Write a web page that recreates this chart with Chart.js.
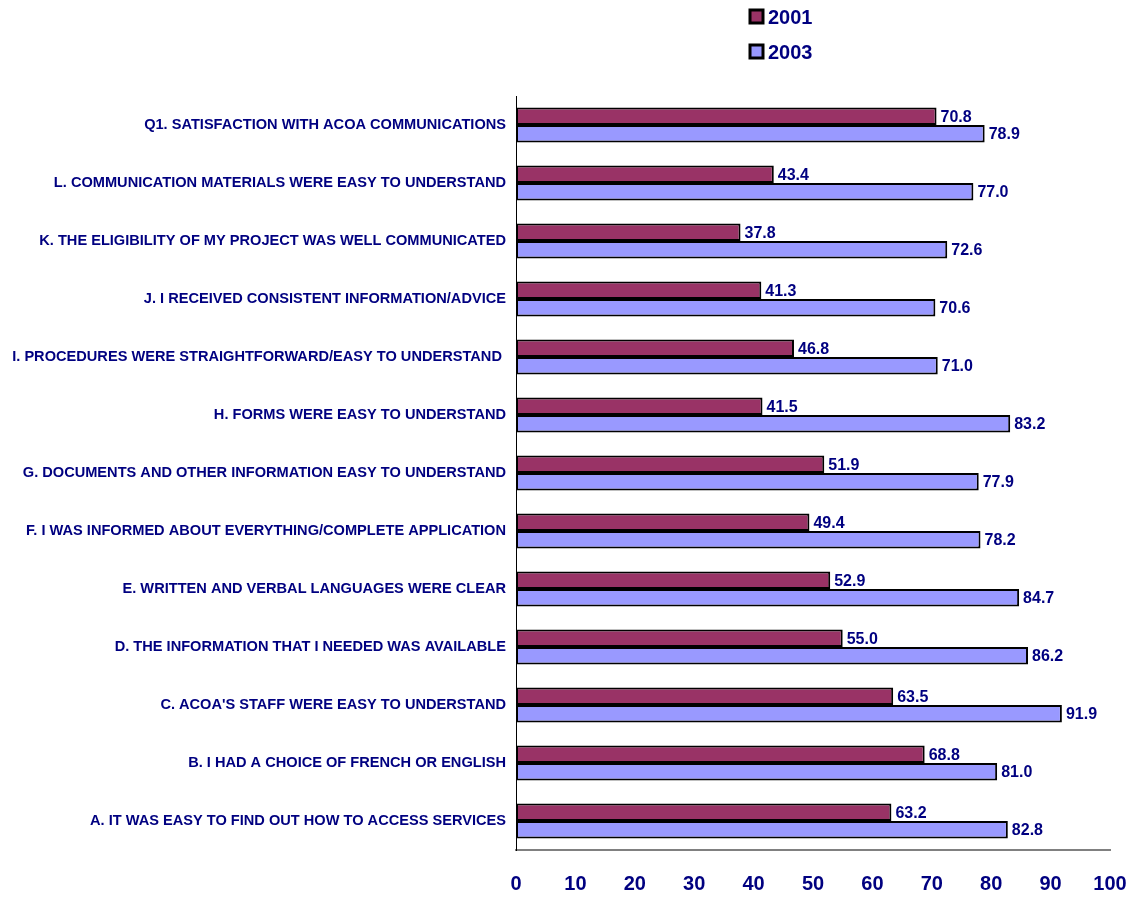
<!DOCTYPE html>
<html>
<head>
<meta charset="utf-8">
<script src="https://cdn.jsdelivr.net/npm/chart.js@4.4.0/dist/chart.umd.min.js"></script>
<style>
  html, body { margin: 0; padding: 0; background: #fff; }
  #wrap { width: 1134px; height: 897px; position: relative; }
</style>
</head>
<body>
<div id="wrap"><canvas id="myChart" width="1134" height="897"></canvas></div>
<script>
const statements = [
  'Q1. SATISFACTION WITH ACOA COMMUNICATIONS',
  'L. COMMUNICATION MATERIALS WERE EASY TO UNDERSTAND',
  'K. THE ELIGIBILITY OF MY PROJECT WAS WELL COMMUNICATED',
  'J. I RECEIVED CONSISTENT INFORMATION/ADVICE',
  'I. PROCEDURES WERE STRAIGHTFORWARD/EASY TO UNDERSTAND ',
  'H. FORMS WERE EASY TO UNDERSTAND',
  'G. DOCUMENTS AND OTHER INFORMATION EASY TO UNDERSTAND',
  'F. I WAS INFORMED ABOUT EVERYTHING/COMPLETE APPLICATION',
  'E. WRITTEN AND VERBAL LANGUAGES WERE CLEAR',
  'D. THE INFORMATION THAT I NEEDED WAS AVAILABLE',
  "C. ACOA'S STAFF WERE EASY TO UNDERSTAND",
  'B. I HAD A CHOICE OF FRENCH OR ENGLISH',
  'A. IT WAS EASY TO FIND OUT HOW TO ACCESS SERVICES'
];
const scores2001 = [70.8, 43.4, 37.8, 41.3, 46.8, 41.5, 51.9, 49.4, 52.9, 55.0, 63.5, 68.8, 63.2];
const scores2003 = [78.9, 77.0, 72.6, 70.6, 71.0, 83.2, 77.9, 78.2, 84.7, 86.2, 91.9, 81.0, 82.8];
const xTicks = [0, 10, 20, 30, 40, 50, 60, 70, 80, 90, 100];

const NAVY = '#000080';
const FONT = '"Liberation Sans", Arial, sans-serif';

// value labels at the end of every bar
const valueLabels = {
  id: 'valueLabels',
  afterDatasetsDraw(chart) {
    const ctx = chart.ctx;
    ctx.save();
    ctx.font = 'bold 16px ' + FONT;
    ctx.fillStyle = NAVY;
    ctx.textAlign = 'left';
    ctx.textBaseline = 'middle';
    chart.data.datasets.forEach((ds, i) => {
      chart.getDatasetMeta(i).data.forEach((bar, j) => {
        ctx.fillText(ds.data[j].toFixed(1), bar.x + 4, bar.y + 1);
      });
    });
    ctx.restore();
  }
};

// stacked legend in the top area
const stackedLegend = {
  id: 'stackedLegend',
  afterDraw(chart) {
    const ctx = chart.ctx;
    ctx.save();
    ctx.font = 'bold 20px ' + FONT;
    ctx.textBaseline = 'middle';
    chart.data.datasets.forEach((ds, i) => {
      const y = 17 + i * 35;
      ctx.fillStyle = ds.backgroundColor;
      ctx.fillRect(750, y - 7, 13, 13);
      ctx.strokeStyle = '#000';
      ctx.lineWidth = 3;
      ctx.strokeRect(750, y - 7, 13, 13);
      ctx.fillStyle = NAVY;
      ctx.fillText(ds.label, 768, y + 1);
    });
    ctx.restore();
  }
};

const ctx = document.getElementById('myChart').getContext('2d');
new Chart(ctx, {
  type: 'bar',
  data: {
    labels: statements,
    datasets: [{
      label: '2001',
      data: scores2001,
      backgroundColor: '#993366',
      borderColor: '#000000',
      borderWidth: 2,
      borderSkipped: false
    }, {
      label: '2003',
      data: scores2003,
      backgroundColor: '#9999FF',
      borderColor: '#000000',
      borderWidth: 2,
      borderSkipped: false
    }]
  },
  options: {
    indexAxis: 'y',
    responsive: false,
    animation: false,
    categoryPercentage: 0.6,
    barPercentage: 1.0,
    layout: { padding: { top: 96, right: 0, left: 0, bottom: 0 } },
    scales: {
      x: {
        min: 0,
        max: 100,
        afterBuildTicks(axis) {
          axis.ticks = xTicks.map(v => ({ value: v }));
        },
        afterFit(axis) {
          axis.height = 47;
          // room for the "100" label only, not the tick padding
          axis.paddingRight = 24;
        },
        grid: { display: false, drawTicks: false },
        border: { color: '#808080', width: 2 },
        ticks: {
          padding: 22,
          color: NAVY,
          font: { family: FONT, size: 20, weight: 'bold' }
        }
      },
      y: {
        afterFit(axis) { axis.width = 516; },
        grid: { display: false, drawTicks: false },
        border: { color: '#000000', width: 1 },
        ticks: {
          padding: 10,
          autoSkip: false,
          color: NAVY,
          font: { family: FONT, size: 14.6, weight: 'bold' }
        }
      }
    },
    plugins: {
      legend: { display: false },
      tooltip: { enabled: false }
    }
  },
  plugins: [valueLabels, stackedLegend]
});
</script>
</body>
</html>
